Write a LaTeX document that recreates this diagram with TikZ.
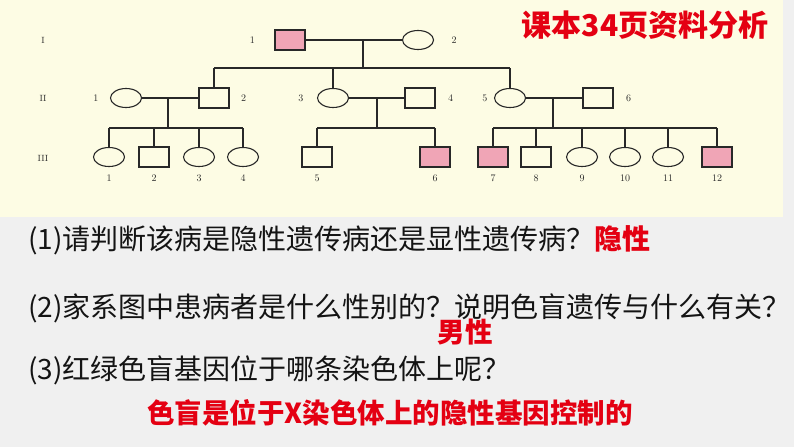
\documentclass[tikz,border=0pt]{standalone}
\usepackage{fontspec}
\usepackage{xcolor}
\usepackage{tikz}
\usetikzlibrary{shapes.geometric, positioning}
\newfontfamily\cjk{Noto Sans CJK SC}
\definecolor{creambg}{RGB}{253,252,228}
\definecolor{greybg}{RGB}{240,240,240}
\definecolor{affected}{RGB}{240,165,182}
\definecolor{answerred}{RGB}{228,0,18}
\definecolor{inkline}{RGB}{40,40,40}

\begin{document}
\begin{tikzpicture}[x=1pt, y=-1pt,
    male/.style={rectangle, draw=inkline, line width=1.1pt, minimum width=30pt, minimum height=20pt, inner sep=0pt},
    female/.style={ellipse, draw=inkline, line width=1.1pt, minimum width=31pt, minimum height=19pt, inner sep=0pt},
    ill/.style={fill=affected},
    num/.style={font=\fontsize{10}{12}\selectfont, text=inkline},
    link/.style={draw=inkline, line width=1.1pt},
    ques/.style={anchor=west, inner sep=0pt, text=black!92, font=\cjk\fontsize{28}{32}\selectfont},
    ans/.style={inner sep=0pt, text=answerred, font=\cjk\bfseries\fontsize{27.5}{32}\selectfont}
]
\useasboundingbox (0,0) rectangle (794,447);
\fill[greybg] (0,0) rectangle (794,447);
\fill[creambg] (0,0) rectangle (783,217);

\node[num, font=\fontsize{9}{11}\selectfont] (genI) at (43,40) {I};
\node[num, font=\fontsize{9}{11}\selectfont] (genII) at (43,98) {II};
\node[num, font=\fontsize{9}{11}\selectfont] (genIII) at (43,158) {III};

\node[male, ill, label={[num, label distance=16pt]left:1}] (g1a) at (290,40) {};
\node[female, label={[num, label distance=14pt]right:2}] (g1b) at (418,40) {};

\node[female, label={[num, label distance=8pt]left:1}] (g2a) at (126,98) {};
\node[male, label={[num, label distance=8pt]right:2}] (g2b) at (214,98) {};
\node[female, label={[num, label distance=10pt]left:3}] (g2c) at (333,98) {};
\node[male, label={[num, label distance=9pt]right:4}] (g2d) at (420,98) {};
\node[female, label={[num, label distance=3pt]left:5}] (g2e) at (510,98) {};
\node[male, label={[num, label distance=9pt]right:6}] (g2f) at (598,98) {};

\node[female, label={[num, label distance=4pt]below:1}] (g3a) at (109,157) {};
\node[male, label={[num, label distance=4pt]below:2}] (g3b) at (154,157) {};
\node[female, label={[num, label distance=4pt]below:3}] (g3c) at (199,157) {};
\node[female, label={[num, label distance=4pt]below:4}] (g3d) at (243,157) {};
\node[male, label={[num, label distance=4pt]below:5}] (g3e) at (317,157) {};
\node[male, ill, label={[num, label distance=4pt]below:6}] (g3f) at (435,157) {};
\node[male, ill, label={[num, label distance=4pt]below:7}] (g3g) at (493,157) {};
\node[male, label={[num, label distance=4pt]below:8}] (g3h) at (536,157) {};
\node[female, label={[num, label distance=4pt]below:9}] (g3i) at (582,157) {};
\node[female, label={[num, label distance=4pt]below:10}] (g3j) at (625,157) {};
\node[female, label={[num, label distance=4pt]below:11}] (g3k) at (668,157) {};
\node[male, ill, label={[num, label distance=4pt]below:12}] (g3l) at (717,157) {};

\coordinate (m1) at (363,40);
\coordinate (s1) at (363,68);
\coordinate (m2) at (168,98);
\coordinate (s2) at (168,128);
\coordinate (m3) at (377,98);
\coordinate (s3) at (377,128);
\coordinate (m4) at (553,98);
\coordinate (s4) at (553,128);

\draw[link] (g1a) -- (g1b);
\draw[link] (m1) -- (s1);
\draw[link] (g2b |- s1) -- (g2e |- s1);
\draw[link] (g2b |- s1) -- (g2b);
\draw[link] (g2c |- s1) -- (g2c);
\draw[link] (g2e |- s1) -- (g2e);

\draw[link] (g2a) -- (g2b);
\draw[link] (g2c) -- (g2d);
\draw[link] (g2e) -- (g2f);
\draw[link] (m2) -- (s2);
\draw[link] (m3) -- (s3);
\draw[link] (m4) -- (s4);

\draw[link] (g3a |- s2) -- (g3d |- s2);
\foreach \kid in {g3a, g3b, g3c, g3d}
  \draw[link] (\kid |- s2) -- (\kid);
\draw[link] (g3e |- s3) -- (g3f |- s3);
\foreach \kid in {g3e, g3f}
  \draw[link] (\kid |- s3) -- (\kid);
\draw[link] (g3g |- s4) -- (g3l |- s4);
\foreach \kid in {g3g, g3h, g3i, g3j, g3k, g3l}
  \draw[link] (\kid |- s4) -- (\kid);

\node[ans, font=\cjk\bfseries\fontsize{30}{34}\selectfont] (title) at (645,25) {课本34页资料分析};

\node[ques] (q1) at (28,240) {(1)请判断该病是隐性遗传病还是显性遗传病？{\color{answerred}\bfseries 隐性}};
\node[ques] (q2) at (28,308) {(2)家系图中患病者是什么性别的？说明色盲遗传与什么有关？};
\node[ans] (a2) at (465,332) {男性};
\node[ques] (q3) at (28,370) {(3)红绿色盲基因位于哪条染色体上呢？};
\node[ans] (a3) at (390,413) {色盲是位于X染色体上的隐性基因控制的};
\end{tikzpicture}
\end{document}
